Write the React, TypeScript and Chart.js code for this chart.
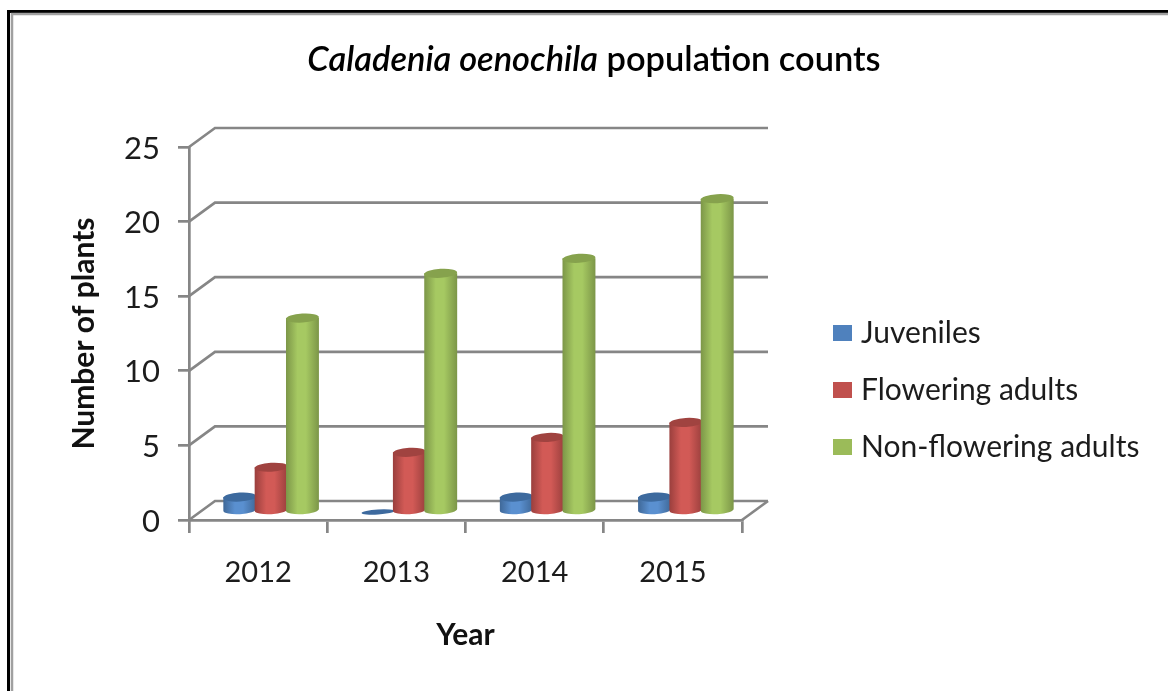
import React, { useEffect, useRef } from "react";
import { Chart, registerables } from "chart.js";

Chart.register(...registerables);

const categories = ["2012", "2013", "2014", "2015"];
const juveniles = [1, 0, 1, 1];
const floweringAdults = [3, 4, 5, 6];
const nonFloweringAdults = [13, 16, 17, 21];
const seriesNames = ["Juveniles", "Flowering adults", "Non-flowering adults"];
const seriesColors = ["#4F81BD", "#C0504D", "#9BBB59"];
const seriesShades = [
  { edge: "#3f6898", mid: "#5a90d0", cap: "#3d6a9e" },
  { edge: "#9a3f3d", mid: "#d25a56", cap: "#a04340" },
  { edge: "#7c9648", mid: "#a6c962", cap: "#86a24d" },
];
const titleItalic = "Caladenia oenochila";
const titleRegular = " population counts";
const fontFamily = "Lato, sans-serif";
const axisColor = "#868686";
const textColor = "#1c1c1c";

// Depth of the fake 3D box, in pixels.
const depthX = 26;
const depthY = 19;

const drawFrame = (ctx: CanvasRenderingContext2D, w: number, h: number) => {
  ctx.save();
  ctx.strokeStyle = "#000";
  ctx.lineWidth = 3;
  ctx.beginPath();
  ctx.moveTo(8.5, h);
  ctx.lineTo(8.5, 11.5);
  ctx.lineTo(w, 11.5);
  ctx.stroke();
  ctx.strokeStyle = "#a0a0a0";
  ctx.lineWidth = 2.5;
  ctx.beginPath();
  ctx.moveTo(12, h);
  ctx.lineTo(12, 14);
  ctx.lineTo(w, 14);
  ctx.stroke();
  ctx.restore();
};

const drawTitle = (chart: Chart) => {
  const { ctx } = chart;
  ctx.save();
  ctx.fillStyle = "#000";
  ctx.textBaseline = "middle";
  ctx.textAlign = "left";
  const italicFont = `italic 600 34.4px ${fontFamily}`;
  const plainFont = `600 34.4px ${fontFamily}`;
  ctx.font = italicFont;
  const a = ctx.measureText(titleItalic).width;
  ctx.font = plainFont;
  const b = ctx.measureText(titleRegular).width;
  const x = 594 - (a + b) / 2;
  ctx.font = italicFont;
  ctx.fillText(titleItalic, x, 60);
  ctx.font = plainFont;
  ctx.fillText(titleRegular, x + a, 60);
  ctx.restore();
};

const drawLegend = (chart: Chart) => {
  const { ctx } = chart;
  ctx.save();
  ctx.textBaseline = "middle";
  ctx.textAlign = "left";
  ctx.font = `30px ${fontFamily}`;
  seriesNames.forEach((name, i) => {
    const y = 333 + i * 57;
    ctx.fillStyle = seriesColors[i];
    ctx.fillRect(833, y - 8, 19, 16);
    ctx.fillStyle = textColor;
    ctx.fillText(name, 861, y);
  });
  ctx.restore();
};

const drawBackWalls = (chart: Chart) => {
  const { ctx, chartArea } = chart;
  const yScale = chart.scales.y;
  ctx.save();
  ctx.strokeStyle = axisColor;
  ctx.lineWidth = 2.7;
  yScale.ticks.forEach((t) => {
    const y = yScale.getPixelForValue(t.value);
    ctx.beginPath();
    ctx.moveTo(chartArea.left, y);
    ctx.lineTo(chartArea.left + depthX, y - depthY);
    ctx.lineTo(chartArea.right + depthX, y - depthY);
    ctx.stroke();
  });
  const y0 = yScale.getPixelForValue(0);
  ctx.beginPath();
  ctx.moveTo(chartArea.right, y0);
  ctx.lineTo(chartArea.right + depthX, y0 - depthY);
  ctx.stroke();
  ctx.restore();
};

const drawCylinder = (
  ctx: CanvasRenderingContext2D,
  el: { x: number; y: number; base: number; width: number },
  shade: { edge: string; mid: string; cap: string },
) => {
  const tilt = -0.06;
  const cx = el.x + depthX / 2;
  const rx = el.width / 2 + 0.8;
  const ry = 4.5;
  const top = el.y - depthY / 2 + 1.5;
  const bottom = el.base - depthY / 2 + 0.5;
  if (bottom - top < 1) {
    ctx.fillStyle = shade.cap;
    ctx.beginPath();
    ctx.ellipse(cx, bottom + 1, rx, 2.5, tilt, 0, Math.PI * 2);
    ctx.fill();
    return;
  }
  const grad = ctx.createLinearGradient(cx - rx, 0, cx + rx, 0);
  grad.addColorStop(0, shade.edge);
  grad.addColorStop(0.35, shade.mid);
  grad.addColorStop(0.6, shade.mid);
  grad.addColorStop(1, shade.edge);
  ctx.fillStyle = grad;
  ctx.beginPath();
  ctx.ellipse(cx, bottom, rx, ry, tilt, 0, Math.PI);
  ctx.lineTo(cx - rx, top);
  ctx.lineTo(cx + rx, top);
  ctx.closePath();
  ctx.fill();
  ctx.fillStyle = shade.cap;
  ctx.beginPath();
  ctx.ellipse(cx, top, rx, ry, tilt, 0, Math.PI * 2);
  ctx.fill();
};

const scenery = {
  id: "scenery",
  beforeDraw(chart: Chart) {
    drawFrame(chart.ctx, chart.width, chart.height);
    drawTitle(chart);
    drawLegend(chart);
    // Lato's digits sit high in the line box; nudge the value labels down.
    (chart.scales.y as any).getLabelItems().forEach((item: any) => {
      item.options.translation[1] += 1.5;
    });
  },
  beforeDatasetsDraw(chart: Chart) {
    drawBackWalls(chart);
    const { ctx } = chart;
    ctx.save();
    categories.forEach((_, i) => {
      seriesNames.forEach((__, s) => {
        const el = chart.getDatasetMeta(s).data[i] as any;
        drawCylinder(ctx, el, seriesShades[s]);
      });
    });
    ctx.restore();
    return false;
  },
};

export default function App() {
  const ref = useRef<HTMLCanvasElement>(null);
  useEffect(() => {
    const series = [juveniles, floweringAdults, nonFloweringAdults];
    const chart = new Chart(ref.current as HTMLCanvasElement, {
      type: "bar",
      data: {
        labels: categories,
        datasets: seriesNames.map((label, i) => ({
          label,
          data: series[i],
          backgroundColor: seriesColors[i],
          categoryPercentage: 0.68,
          barPercentage: 1,
        })),
      },
      plugins: [scenery],
      options: {
        responsive: false,
        animation: false,
        events: [],
        layout: { padding: { left: 66, top: 147, right: 426, bottom: 32 } },
        plugins: {
          title: { display: false },
          tooltip: { enabled: false },
          legend: { display: false },
        },
        scales: {
          x: {
            afterFit: (s: any) => {
              s.height = 691 - 32 - 520;
            },
            grid: { drawOnChartArea: false, color: axisColor, lineWidth: 2.7, tickLength: 13 },
            border: { color: axisColor, width: 2.7 },
            ticks: { color: textColor, padding: 22, font: { family: fontFamily, size: 29 } },
            title: {
              display: true,
              text: "Year",
              color: "#111",
              padding: { top: 0, bottom: 6 },
              font: { family: fontFamily, size: 30, weight: 700 },
            },
          },
          y: {
            min: 0,
            max: 25,
            afterFit: (s: any) => {
              s.width = 189 - 66;
            },
            grid: { drawOnChartArea: false, color: axisColor, lineWidth: 2.7, tickLength: 11 },
            border: { color: axisColor, width: 2.7 },
            ticks: {
              stepSize: 5,
              color: textColor,
              padding: 18,
              font: { family: fontFamily, size: 31 },
            },
            title: {
              display: true,
              text: "Number of plants",
              color: "#111",
              padding: { top: 0, bottom: 0 },
              font: { family: fontFamily, size: 30, weight: 700 },
            },
          },
        },
      },
    });
    return () => chart.destroy();
  }, []);
  return (
    <div style={{ position: "absolute", left: 0, top: 0 }}>
      <canvas ref={ref} width={1168} height={691} style={{ display: "block" }} />
    </div>
  );
}
